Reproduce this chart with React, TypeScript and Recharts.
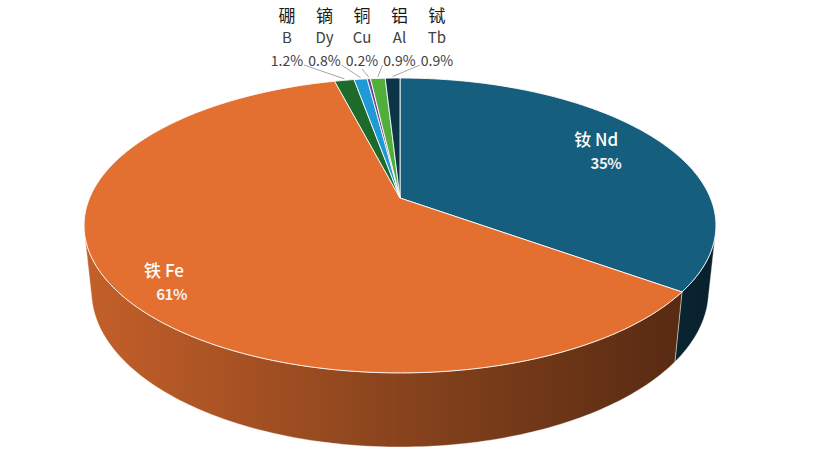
import { PieChart, Pie } from 'recharts'

const NAMES_CN = ['钕', '铁', '硼', '镝', '铜', '铝', '铽']
const SYMBOLS = ['Nd', 'Fe', 'B', 'Dy', 'Cu', 'Al', 'Tb']
const SHARES = [35, 61, 1.2, 0.8, 0.2, 0.9, 0.9]
const COLORS = ['#165e7e', '#e36f30', '#1d6a2b', '#1e9ad6', '#6a3d9a', '#52ae3a', '#0d3548']

const data = SHARES.map((value, i) => ({ name: SYMBOLS[i], cn: NAMES_CN[i], value, fill: COLORS[i] }))

// perspective of the tilted pie (distances in radii)
const SIN_T = 0.8887
const COS_T = 0.4585
const DIST = 4.772
const DEPTH = 0.2394
const RAD = Math.PI / 180
const EDGE = Math.asin(1 / (DIST * SIN_T)) / RAD // where the outer wall turns away

const FONT = '"Noto Sans CJK SC", "Noto Sans", sans-serif'

function project(cx: number, cy: number, r: number, deg: number, z = 0, k = 1) {
  const a = deg * RAD
  const X = k * Math.cos(a)
  const Y = k * Math.sin(a)
  const zc = DIST + Y * SIN_T - z * COS_T
  const yc = Y * COS_T + z * SIN_T
  const f = r * DIST
  return [cx + (f * X) / zc, cy - (f * yc) / zc]
}

function arc(cx: number, cy: number, r: number, from: number, to: number, z: number) {
  const n = Math.max(2, Math.ceil(Math.abs(to - from)))
  const pts: number[][] = []
  for (let i = 0; i <= n; i++) pts.push(project(cx, cy, r, from + ((to - from) * i) / n, z))
  return pts
}

function shade(hex: string, f: number) {
  const n = parseInt(hex.slice(1), 16)
  const c = [(n >> 16) & 255, (n >> 8) & 255, n & 255].map((v) => Math.round(v * f))
  return `rgb(${c.join(',')})`
}

const toPath = (pts: number[][]) => pts.map((p) => `${p[0].toFixed(2)},${p[1].toFixed(2)}`).join('L')

function Slice3D(props: any) {
  const { cx, cy, outerRadius: r, startAngle, endAngle, fill } = props
  const lo = Math.min(startAngle, endAngle)
  const hi = Math.max(startAngle, endAngle)
  const a1 = Math.max(lo, -180 + EDGE)
  const a2 = Math.min(hi, -EDGE)

  const top = arc(cx, cy, r, startAngle, endAngle, 0)
  const topPath = `M${cx},${cy}L${toPath(top)}Z`
  let wallPath = ''
  if (a2 > a1) {
    const up = arc(cx, cy, r, a1, a2, 0)
    const down = arc(cx, cy, r, a2, a1, -DEPTH)
    wallPath = `M${toPath([...up, ...down])}Z`
  }
  const gid = `wall-${String(fill).slice(1)}`

  return (
    <g>
      <defs>
        <linearGradient id={gid} gradientUnits="userSpaceOnUse" x1={cx - r} x2={cx + r} y1={0} y2={0}>
          <stop offset="0" stopColor={shade(fill, 0.86)} />
          <stop offset="0.5" stopColor={shade(fill, 0.6)} />
          <stop offset="1" stopColor={shade(fill, 0.36)} />
        </linearGradient>
      </defs>
      {wallPath && (
        <path d={wallPath} fill={`url(#${gid})`} stroke="#ffffff" strokeOpacity={0.5} strokeWidth={0.8} />
      )}
      <path d={topPath} fill={fill} stroke="#ffffff" strokeOpacity={0.85} strokeWidth={1} strokeLinejoin="round" />
    </g>
  )
}

// small nudges for the two labels that sit on their slices
const BIG_SHIFT: Record<string, number[]> = { Nd: [14, -4], Fe: [11, 9] }

function renderLabel(props: any) {
  const { cx, cy, outerRadius: r, midAngle, index } = props
  const value = SHARES[index]
  if (value >= 10) {
    const [x, y] = project(cx, cy, r, midAngle, 0, 0.8)
    const [dx, dy] = BIG_SHIFT[SYMBOLS[index]] ?? [12, 2]
    return (
      <g key={`l-${index}`} fontFamily={FONT}>
        <text x={x + dx - 3} y={y + dy} textAnchor="end" fill="#ffffff" fontSize={17} fontWeight={500}>
          {`${NAMES_CN[index]} ${SYMBOLS[index]}`}
        </text>
        <text x={x + dx} y={y + dy + 23} textAnchor="end" fill="#f1f1f1" fontSize={15} fontWeight={700} letterSpacing={-0.5}>
          {`${value}%`}
        </text>
      </g>
    )
  }

  const topY = project(cx, cy, r, 90)[1]
  const j = index - 2
  const lx = cx - 38 + (j - 2) * 37.5
  const [tx, ty] = project(cx, cy, r, midAngle)
  let sx = lx
  let sy = topY - 9
  if (tx > lx + 18) { sx = lx + 17; sy = topY - 13 }
  else if (tx < lx - 18) { sx = lx - 17; sy = topY - 13 }

  return (
    <g key={`l-${index}`} fontFamily={FONT}>
      <line x1={sx} y1={sy} x2={tx} y2={ty - 1.5} stroke="#a6a6a6" strokeWidth={1} />
      <text x={lx} y={topY - 56} textAnchor="middle" fill="#1a1a1a" fontSize={17}>
        {NAMES_CN[index]}
      </text>
      <text x={lx} y={topY - 35} textAnchor="middle" fill="#404040" fontSize={15}>
        {SYMBOLS[index]}
      </text>
      <text x={lx} y={topY - 12} textAnchor="middle" fill="#404040" fontSize={14}>
        {`${value}%`}
      </text>
    </g>
  )
}

export default function App() {
  return (
    <div style={{ position: 'absolute', left: 0, top: 0, width: 820, height: 460, background: '#ffffff' }}>
      <PieChart width={820} height={460} margin={{ top: 0, right: 0, bottom: 0, left: 0 }}>
        <Pie
          data={data}
          dataKey="value"
          nameKey="name"
          cx={400}
          cy={198}
          outerRadius={310.4}
          startAngle={90}
          endAngle={-270}
          stroke="none"
          shape={Slice3D}
          activeShape={Slice3D}
          inactiveShape={Slice3D}
          label={renderLabel}
          labelLine={false}
          isAnimationActive={false}
        />
      </PieChart>
    </div>
  )
}
